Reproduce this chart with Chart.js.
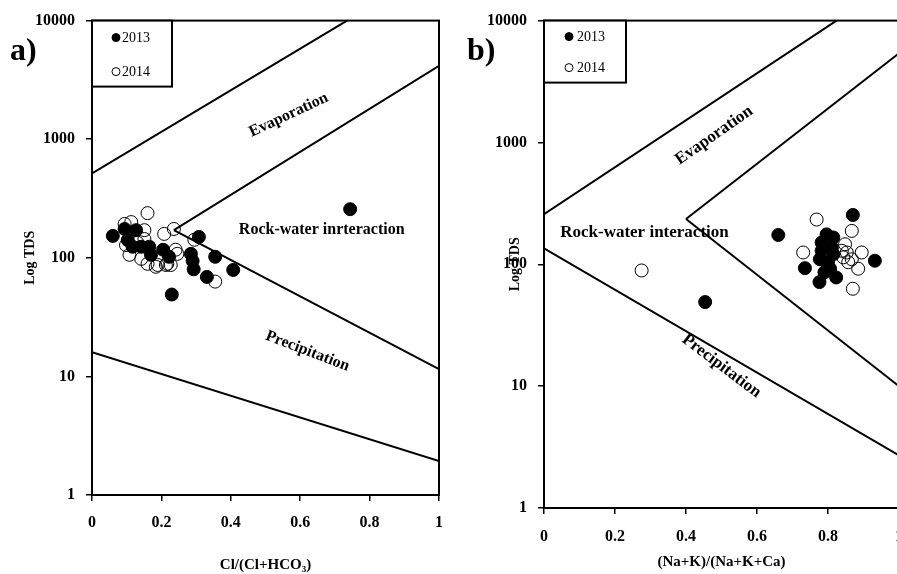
<!DOCTYPE html>
<html>
<head>
<meta charset="utf-8">
<script src="https://cdn.jsdelivr.net/npm/chart.js"></script>
<style>
  html, body { margin: 0; padding: 0; background: #fff; overflow: hidden; }
  body { width: 897px; height: 574px; position: relative; }
  #chartA { position: absolute; left: 0; top: 0; }
  #chartB { position: absolute; left: 455px; top: 0; }
</style>
</head>
<body>
<canvas id="chartA" width="455" height="574"></canvas>
<canvas id="chartB" width="470" height="574"></canvas>
<script>
// --- Data ---
const xTicks = [0, 0.2, 0.4, 0.6, 0.8, 1];
const yTicks = [1, 10, 100, 1000, 10000];
const seriesNames = ['2013', '2014'];

// a) Cl/(Cl+HCO3) vs TDS
const anionX2013 = [0.06, 0.094, 0.127, 0.103, 0.117, 0.142, 0.165, 0.17, 0.205, 0.222, 0.308, 0.285, 0.29, 0.293, 0.355, 0.331, 0.407, 0.23, 0.744];
const anionY2013 = [153, 175, 171, 141, 124, 124, 124, 106, 117, 102, 150, 108, 94, 80, 102, 69, 79, 49, 257];
const anionX2014 = [0.16, 0.094, 0.113, 0.151, 0.208, 0.236, 0.098, 0.131, 0.151, 0.142, 0.16, 0.184, 0.213, 0.227, 0.241, 0.246, 0.295, 0.108, 0.355, 0.189, 0.217];
const anionY2014 = [238, 193, 200, 171, 159, 175, 128, 134, 144, 98, 89, 84, 87, 87, 117, 108, 142, 106, 63, 87, 89];

// b) (Na+K)/(Na+K+Ca) vs TDS
const cationX2013 = [0.454, 0.66, 0.87, 0.932, 0.735, 0.776, 0.823, 0.796, 0.815, 0.782, 0.782, 0.777, 0.8, 0.806, 0.79, 0.815, 0.811];
const cationY2013 = [49, 174, 254, 107, 93, 71.5, 78, 176, 166, 151, 129, 110, 104, 92, 86, 121, 137];
const cationX2014 = [0.275, 0.768, 0.867, 0.73, 0.895, 0.848, 0.853, 0.857, 0.885, 0.87, 0.839, 0.843, 0.867];
const cationY2014 = [89, 233, 188, 125, 125, 146, 125, 104, 92, 63, 129, 114, 110];

// Gibbs boundary lines (end points)
const anionBounds = [
  [[0, 514], [0.735, 10000]],
  [[0.236, 171], [1, 4150]],
  [[0.236, 171], [1, 11.5]],
  [[0, 16], [1, 1.93]]
];
const cationBounds = [
  [[0, 258], [0.824, 10000]],
  [[0.4, 235], [1, 5400]],
  [[0.4, 235], [1, 10]],
  [[0, 135], [1, 2.7]]
];

const serif = "'Liberation Serif', 'DejaVu Serif', serif";

const toPoints = (xs, ys) => xs.map((x, i) => ({ x: x, y: ys[i] }));

// --- Frame, zone labels, legend box and panel letter ---
const decorPlugin = {
  id: 'decor',
  afterDraw(chart, args, opts) {
    const { ctx, chartArea: a, scales: { x, y } } = chart;
    ctx.save();
    ctx.strokeStyle = '#000';
    ctx.lineWidth = 2;
    ctx.strokeRect(a.left, a.top, a.right - a.left, a.bottom - a.top);

    ctx.fillStyle = '#000';
    ctx.textAlign = 'center';
    ctx.textBaseline = 'middle';
    ctx.font = `bold ${opts.labelSize}px ${serif}`;
    opts.zones.forEach(z => {
      ctx.save();
      ctx.translate(x.getPixelForValue(z.x), y.getPixelForValue(z.y));
      ctx.rotate(z.angle * Math.PI / 180);
      ctx.fillText(z.text, 0, 0);
      ctx.restore();
    });

    // legend
    const lg = opts.legend;
    ctx.fillStyle = '#fff';
    ctx.fillRect(a.left, a.top, lg.w, lg.h);
    ctx.strokeRect(a.left, a.top, lg.w, lg.h);
    ctx.font = `14px ${serif}`;
    ctx.textAlign = 'left';
    chart.data.datasets.slice(0, 2).forEach((ds, i) => {
      const cy = a.top + lg.rows[i];
      ctx.beginPath();
      ctx.arc(a.left + lg.mx, cy, 4, 0, Math.PI * 2);
      ctx.lineWidth = 1;
      ctx.fillStyle = i === 0 ? '#000' : '#fff';
      ctx.fill();
      ctx.stroke();
      ctx.fillStyle = '#000';
      ctx.fillText(ds.label, a.left + lg.tx, cy + 1);
    });

    ctx.font = `bold 32px ${serif}`;
    ctx.textBaseline = 'alphabetic';
    ctx.fillText(opts.panel, opts.panelX, 60);
    ctx.restore();
  }
};

function makeChart(id, cfg) {
  const lineSets = cfg.bounds.map(seg => ({
    data: seg.map(p => ({ x: p[0], y: p[1] })),
    showLine: true,
    borderColor: '#000',
    borderWidth: 2,
    pointRadius: 0,
    fill: false
  }));
  const tickFont = { family: serif, size: 16, weight: 'bold' };
  return new Chart(document.getElementById(id), {
    type: 'scatter',
    data: {
      datasets: [
        { label: seriesNames[0], data: cfg.filled, pointRadius: 6.5, backgroundColor: '#000', borderColor: '#000', borderWidth: 1 },
        { label: seriesNames[1], data: cfg.open, pointRadius: 6.5, backgroundColor: 'rgba(255,255,255,0)', borderColor: '#000', borderWidth: 1 },
        ...lineSets
      ]
    },
    options: {
      responsive: false,
      animation: false,
      layout: { padding: cfg.padding },
      plugins: {
        legend: { display: false },
        tooltip: { enabled: false },
        decor: cfg.decor
      },
      scales: {
        x: {
          type: 'linear', min: 0, max: 1,
          afterBuildTicks: s => { s.ticks = xTicks.map(v => ({ value: v })); },
          afterFit: s => { s.height = cfg.xAxisHeight; },
          ticks: { callback: v => String(+v.toFixed(1)), font: tickFont, color: '#000', padding: cfg.xTickPad, maxRotation: 0, autoSkip: false },
          grid: { drawOnChartArea: false, drawTicks: true, tickLength: 6, color: '#000', lineWidth: 1.5 },
          border: { display: true, color: '#000', width: 2 },
          title: { display: true, text: cfg.xTitle, color: '#000', font: { family: serif, size: 15, weight: 'bold' }, padding: { top: 0, bottom: cfg.xTitlePad } }
        },
        y: {
          type: 'logarithmic', min: 1, max: 10000,
          afterBuildTicks: s => { s.ticks = yTicks.map(v => ({ value: v })); },
          afterFit: s => { s.width = cfg.yAxisWidth; },
          ticks: { callback: v => String(v), font: tickFont, color: '#000', padding: 11, autoSkip: false },
          grid: { drawOnChartArea: false, drawTicks: true, tickLength: 6, color: '#000', lineWidth: 1.5 },
          border: { display: true, color: '#000', width: 2 },
          title: { display: true, text: 'Log TDS', color: '#000', font: { family: serif, size: 14, weight: 'bold' }, padding: { top: cfg.yTitlePad, bottom: 0 } }
        }
      }
    },
    plugins: [decorPlugin]
  });
}

makeChart('chartA', {
  filled: toPoints(anionX2013, anionY2013),
  open: toPoints(anionX2014, anionY2014),
  bounds: anionBounds,
  padding: { left: 0, top: 17, right: 12, bottom: 0 },
  xAxisHeight: 79, yAxisWidth: 92, xTickPad: 12, xTitlePad: 0, yTitlePad: 22,
  xTitle: 'Cl/(Cl+HCO\u2083)',
  decor: {
    panel: 'a)', panelX: 10, labelSize: 16,
    legend: { w: 80, h: 66, rows: [17, 51], mx: 24, tx: 30 },
    zones: [
      { text: 'Evaporation', x: 0.567, y: 1600, angle: -25 },
      { text: 'Rock-water inrteraction', x: 0.662, y: 171, angle: 0 },
      { text: 'Precipitation', x: 0.621, y: 16.3, angle: 21 }
    ]
  }
});

makeChart('chartB', {
  filled: toPoints(cationX2013, cationY2013),
  open: toPoints(cationX2014, cationY2014),
  bounds: cationBounds,
  padding: { left: 0, top: 16, right: 26, bottom: 0 },
  xAxisHeight: 66, yAxisWidth: 89, xTickPad: 13, xTitlePad: 3, yTitlePad: 52,
  xTitle: '(Na+K)/(Na+K+Ca)',
  decor: {
    panel: 'b)', panelX: 12, labelSize: 17,
    legend: { w: 82, h: 62, rows: [16, 47], mx: 25, tx: 33 },
    zones: [
      { text: 'Evaporation', x: 0.479, y: 1140, angle: -35 },
      { text: 'Rock-water interaction', x: 0.283, y: 182, angle: 0 },
      { text: 'Precipitation', x: 0.5, y: 14.6, angle: 37 }
    ]
  }
});
</script>
</body>
</html>
